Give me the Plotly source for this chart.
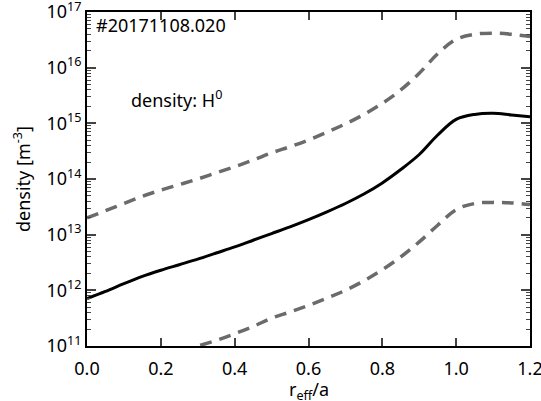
import numpy as np
import plotly.graph_objects as go

r_eff = [0.0, 0.05, 0.1, 0.15, 0.2, 0.25, 0.3, 0.35, 0.4, 0.45, 0.5, 0.55, 0.6,
         0.65, 0.7, 0.75, 0.8, 0.85, 0.9, 0.95, 1.0, 1.05, 1.1, 1.15, 1.2]
# log10 of density [m^-3]
density_log10 = [11.85, 11.98, 12.12, 12.25, 12.36, 12.46, 12.56, 12.67, 12.78, 12.90,
                 13.02, 13.14, 13.27, 13.41, 13.56, 13.73, 13.93, 14.17, 14.44, 14.79,
                 15.07, 15.16, 15.18, 15.15, 15.12]
upper_log10 = [13.30, 13.43, 13.56, 13.69, 13.80, 13.90, 14.00, 14.11, 14.22, 14.34,
               14.47, 14.58, 14.70, 14.84, 14.99, 15.16, 15.36, 15.60, 15.90, 16.25,
               16.51, 16.60, 16.62, 16.60, 16.56]
lower_log10 = [10.30, 10.43, 10.56, 10.69, 10.80, 10.90, 11.00, 11.10, 11.22, 11.35,
               11.50, 11.61, 11.73, 11.86, 12.00, 12.17, 12.37, 12.60, 12.87, 13.17,
               13.45, 13.56, 13.58, 13.57, 13.54]
decades = [11, 12, 13, 14, 15, 16, 17]
decade_labels = ["10<sup>%d</sup>" % d for d in decades]

density = 10 ** np.array(density_log10)
upper = 10 ** np.array(upper_log10)
lower = 10 ** np.array(lower_log10)
major_vals = [10.0 ** d for d in decades]
minor_vals = [k * 10.0 ** d for d in decades[:-1] for k in range(2, 10)]

FONT = "Noto Sans"
fig = go.Figure()
for y in (upper, lower):
    fig.add_trace(go.Scatter(x=r_eff, y=y, mode="lines",
                             line=dict(color="#6b6b6b", width=3.5, dash="12px,8px", shape="spline"),
                             showlegend=False, hoverinfo="skip"))
fig.add_trace(go.Scatter(x=r_eff, y=density, mode="lines",
                         line=dict(color="black", width=3, shape="spline"),
                         showlegend=False))

fig.update_layout(
    width=541, height=401,
    margin=dict(l=87, r=11, t=12, b=55),
    paper_bgcolor="white", plot_bgcolor="white",
    font=dict(family=FONT, size=18, color="black"),
    xaxis=dict(range=[0, 1.2], tickmode="linear", tick0=0, dtick=0.2, tickformat=".1f",
               ticks="inside", ticklen=8, ticklabelstandoff=5, ticklabeloverflow="allow",
               tickwidth=1.5, showline=True, linecolor="black", linewidth=2, mirror="allticks",
               showgrid=False, zeroline=False, automargin=False),
    yaxis=dict(type="log", range=[10.9999, 17.0001], tickmode="array", tickvals=major_vals,
               ticktext=decade_labels, ticklabeloverflow="allow",
               ticks="inside", ticklen=9, tickwidth=1.5, showline=True, linecolor="black",
               linewidth=2, mirror="allticks", showgrid=False, zeroline=False, automargin=False,
               minor=dict(ticks="inside", ticklen=4, tickwidth=1, tickmode="array",
                          tickvals=minor_vals, showgrid=False)),
    annotations=[
        dict(x=0.018, y=16.76, xref="x", yref="y", text="#20171108.020", showarrow=False,
             xanchor="left", yanchor="middle", font=dict(size=18, family=FONT)),
        dict(x=0.115, y=15.43, xref="x", yref="y", text="density: H<sup>0</sup>", showarrow=False,
             xanchor="left", yanchor="middle", font=dict(size=18, family=FONT)),
        dict(x=0.5, y=0, xref="paper", yref="paper", text="r<sub>eff</sub>/a", showarrow=False,
             xanchor="center", yanchor="middle", font=dict(size=18, family=FONT)),
        dict(x=0, y=0.5, xref="paper", yref="paper", text="density [m<sup>-3</sup>]",
             showarrow=False, textangle=-90, xanchor="center", yanchor="middle",
             font=dict(size=18, family=FONT)),
    ],
)
# position axis-title annotations in pixel terms
plot_w = 541 - 87 - 11
plot_h = 401 - 12 - 55
anns = list(fig.layout.annotations)
anns[2].update(y=(401 - 55 - 390) / plot_h)
anns[3].update(x=(22 - 87) / plot_w)
fig.update_layout(annotations=anns)
fig.write_html("out.html")
